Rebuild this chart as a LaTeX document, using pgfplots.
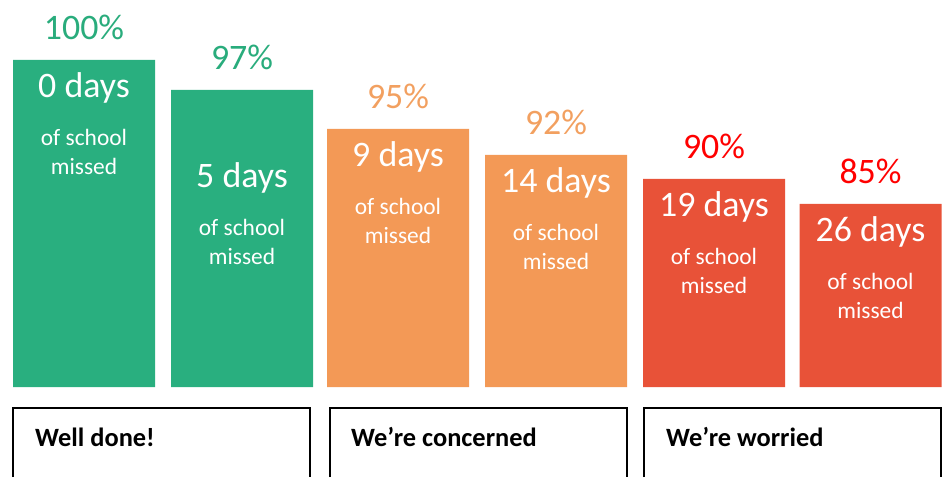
\documentclass[border=0pt]{standalone}
\usepackage{pgfplots}
\pgfplotsset{compat=1.18}
\usepackage{pgfplotstable}
\usepackage{fontspec}
\setmainfont{Carlito}
\definecolor{gbar}{RGB}{41,175,127}
\definecolor{obar}{RGB}{243,153,86}
\definecolor{rbar}{RGB}{232,82,56}
\definecolor{gtxt}{RGB}{41,172,124}
\definecolor{otxt}{RGB}{242,160,96}
\definecolor{rtxt}{RGB}{255,0,0}

% x = bar centre, h = bar height (as drawn), pct = attendance, days = days missed, off = extra text drop
\pgfplotstableread{
x   h   pct days off
84  327 100 0    0
242 297 97  5    60
}\greentab
\pgfplotstableread{
x   h   pct days off
398 258 95  9    0
556 232 92  14   0
}\orangetab
\pgfplotstableread{
x     h   pct days off
714   208 90  19   0
870.5 183 85  26   0
}\redtab

\newcommand{\bargroup}[3]{%
  \addplot[ybar, bar width=142, bar shift=0pt, fill=#2, draw=none,
    point meta=explicit symbolic,
    nodes near coords={\pgfplotspointmeta\%},
    every node near coord/.append style={anchor=base, yshift=20.5bp, inner sep=0pt,
      text=#3, font=\fontsize{36}{40}\selectfont}]
    table[x=x, y=h, meta=pct]{#1};
  \addplot[draw=none, mark=none, point meta=explicit symbolic,
    nodes near coords={\pgfplotspointmeta\ days},
    every node near coord/.append style={anchor=base, yshift=-37.5bp, inner sep=0pt,
      text=white, font=\fontsize{36}{40}\selectfont}]
    table[x=x, y expr=\thisrow{h}-\thisrow{off}, meta=days]{#1};
  \addplot[draw=none, mark=none,
    nodes near coords={of school},
    every node near coord/.append style={anchor=base, yshift=-85.5bp, inner sep=0pt,
      text=white, font=\fontsize{23.5}{28}\selectfont}]
    table[x=x, y expr=\thisrow{h}-\thisrow{off}]{#1};
  \addplot[draw=none, mark=none,
    nodes near coords={missed},
    every node near coord/.append style={anchor=base, yshift=-115bp, inner sep=0pt,
      text=white, font=\fontsize{23.5}{28}\selectfont}]
    table[x=x, y expr=\thisrow{h}-\thisrow{off}]{#1};
}

\begin{document}
\begin{tikzpicture}
\begin{axis}[
  width=943bp, height=387bp, scale only axis,
  xmin=0, xmax=943, ymin=0, ymax=387,
  hide axis, clip=false,
]
\bargroup{\greentab}{gbar}{gtxt}
\bargroup{\orangetab}{obar}{otxt}
\bargroup{\redtab}{rbar}{rtxt}

\path (axis cs:0,-90) rectangle (axis cs:943,387);
\draw[line width=2bp] (axis cs:13,-90) -- (axis cs:13,-21) -- (axis cs:309.5,-21) -- (axis cs:309.5,-90);
\draw[line width=2bp] (axis cs:329.5,-90) -- (axis cs:329.5,-21) -- (axis cs:626.5,-21) -- (axis cs:626.5,-90);
\draw[line width=2bp] (axis cs:643.5,-90) -- (axis cs:643.5,-21) -- (axis cs:940.5,-21) -- (axis cs:940.5,-90);
\node[anchor=base west, inner sep=0pt, font=\bfseries\fontsize{26.5}{30}\selectfont] at (axis cs:35,-59) {Well done!};
\node[anchor=base west, inner sep=0pt, font=\bfseries\fontsize{26.5}{30}\selectfont] at (axis cs:351,-59) {We’re concerned};
\node[anchor=base west, inner sep=0pt, font=\bfseries\fontsize{26.5}{30}\selectfont] at (axis cs:666,-59) {We’re worried};
\end{axis}
\end{tikzpicture}
\end{document}
